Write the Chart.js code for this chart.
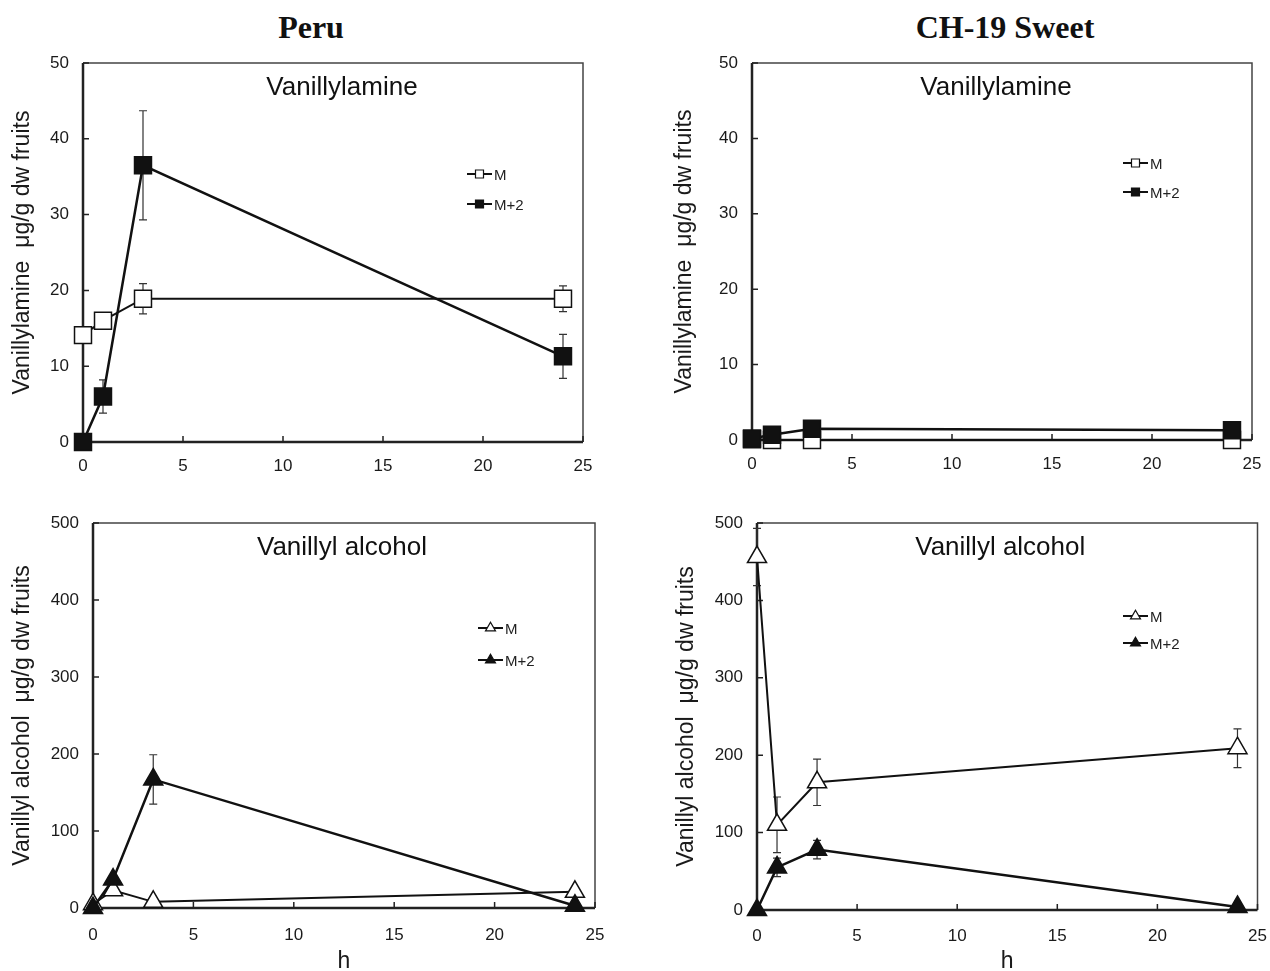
<!DOCTYPE html>
<html>
<head>
<meta charset="utf-8">
<script src="https://cdn.jsdelivr.net/npm/chart.js@4.4.1/dist/chart.umd.min.js"></script>
<style>
  body { margin: 0; background: #fff; width: 1270px; height: 971px; position: relative; overflow: hidden; }
  .head { position: absolute; top: 11px; width: 240px; text-align: center; font: bold 32px/32px "Liberation Serif", "Times New Roman", serif; color: #111; }
  canvas { position: absolute; }
</style>
</head>
<body>
<div class="head" id="head0" style="left:191px"></div>
<div class="head" id="head1" style="left:885px"></div>
<canvas id="c1"></canvas>
<canvas id="c2"></canvas>
<canvas id="c3"></canvas>
<canvas id="c4"></canvas>
<script>
// ---- data ----
const hours = [0, 1, 3, 24];
const xTickValues = [0, 5, 10, 15, 20, 25];
const amineTicks = [0, 10, 20, 30, 40, 50];
const alcoholTicks = [0, 100, 200, 300, 400, 500];
const cultivars = ['Peru', 'CH-19 Sweet'];
const compounds = ['Vanillylamine', 'Vanillyl alcohol'];
const yTitles = ['Vanillylamine  μg/g dw fruits', 'Vanillyl alcohol  μg/g dw fruits'];
const xTitle = 'h';
const seriesNames = ['M', 'M+2'];

const peruAmineM = [14.1, 16.0, 18.9, 18.9];
const peruAmineMErr = [0, 0, 2.0, 1.7];
const peruAmineM2 = [0, 6.0, 36.5, 11.3];
const peruAmineM2Err = [0, 2.2, 7.2, 2.9];

const sweetAmineM = [0.1, 0, 0, 0];
const sweetAmineMErr = [0, 0, 0, 0];
const sweetAmineM2 = [0.2, 0.7, 1.5, 1.3];
const sweetAmineM2Err = [0, 0, 0, 0];

const peruAlcM = [5, 23, 8, 21];
const peruAlcMErr = [0, 0, 0, 0];
const peruAlcM2 = [0, 37, 167, 3];
const peruAlcM2Err = [0, 0, 32, 0];

const sweetAlcM = [456, 110, 165, 209];
const sweetAlcMErr = [37, 36, 30, 25];
const sweetAlcM2 = [0, 55, 78, 4];
const sweetAlcM2Err = [0, 12, 12, 0];

document.getElementById('head0').textContent = cultivars[0];
document.getElementById('head1').textContent = cultivars[1];

const FONT = '"Liberation Sans", Arial, sans-serif';
const INK = '#111';

// box = canvas left, top, width, height; plot = chart area left, top, right, bottom
const panels = [
  { id: 'c1', box: [0, 45, 620, 440], plot: [83, 63, 583, 442], ticks: amineTicks, m: peruAmineM, mErr: peruAmineMErr,
    m2: peruAmineM2, m2Err: peruAmineM2Err, shape: 'rect', title: compounds[0], yTitle: yTitles[0], titleDx: 9, legend: [384, 111, 30], showH: false, xPad: 14 },
  { id: 'c2', box: [662, 45, 608, 440], plot: [752, 63, 1252, 440], ticks: amineTicks, m: sweetAmineM, mErr: sweetAmineMErr,
    m2: sweetAmineM2, m2Err: sweetAmineM2Err, shape: 'rect', title: compounds[0], yTitle: yTitles[0], titleDx: -6, legend: [371, 100, 29], showH: false, xPad: 14 },
  { id: 'c3', box: [0, 500, 620, 473], plot: [93, 523, 595, 908], ticks: alcoholTicks, m: peruAlcM, mErr: peruAlcMErr,
    m2: peruAlcM2, m2Err: peruAlcM2Err, shape: 'triangle', title: compounds[1], yTitle: yTitles[1], titleDx: -2, legend: [385, 105, 32], showH: true, xPad: 17 },
  { id: 'c4', box: [664, 500, 606, 473], plot: [757, 523, 1258, 910], ticks: alcoholTicks, m: sweetAlcM, mErr: sweetAlcMErr,
    m2: sweetAlcM2, m2Err: sweetAlcM2Err, shape: 'triangle', title: compounds[1], yTitle: yTitles[1], titleDx: -7, legend: [366, 93, 27], showH: true, xPad: 16 }
];

function toPoints(values) {
  return values.map((v, i) => ({ x: hours[i], y: v }));
}

function drawMarker(ctx, shape, x, y, size, filled) {
  ctx.beginPath();
  if (shape === 'rect') {
    ctx.rect(x - size / 2, y - size / 2, size, size);
  } else {
    const r = size / Math.sqrt(3);
    ctx.moveTo(x, y - r);
    ctx.lineTo(x + size / 2, y + r / 2);
    ctx.lineTo(x - size / 2, y + r / 2);
    ctx.closePath();
  }
  ctx.fillStyle = filled ? INK : '#fff';
  ctx.fill();
  ctx.stroke();
}

const panelDecor = {
  id: 'panelDecor',
  beforeDatasetsDraw(chart, args, opts) {
    const { ctx, chartArea: a, scales: { x, y } } = chart;
    ctx.save();
    // frame: thin top/right, heavier axes
    ctx.strokeStyle = '#444';
    ctx.lineWidth = 1.5;
    ctx.beginPath();
    ctx.moveTo(a.left, a.top); ctx.lineTo(a.right, a.top); ctx.lineTo(a.right, a.bottom);
    ctx.stroke();
    ctx.strokeStyle = '#222';
    ctx.lineWidth = 2.5;
    ctx.beginPath();
    ctx.moveTo(a.left, a.top); ctx.lineTo(a.left, a.bottom); ctx.lineTo(a.right, a.bottom);
    ctx.stroke();
    // inward tick marks
    ctx.lineWidth = 1.5;
    ctx.beginPath();
    x.ticks.forEach(t => {
      const px = x.getPixelForValue(t.value);
      ctx.moveTo(px, a.bottom); ctx.lineTo(px, a.bottom - 6);
    });
    y.ticks.forEach(t => {
      const py = y.getPixelForValue(t.value);
      ctx.moveTo(a.left, py); ctx.lineTo(a.left + 6, py);
    });
    ctx.stroke();
    // error bars, under the markers
    ctx.strokeStyle = '#333';
    ctx.lineWidth = 1.2;
    chart.data.datasets.forEach(ds => {
      ds.data.forEach((p, i) => {
        const e = ds.errors[i];
        if (!e) return;
        const px = x.getPixelForValue(p.x);
        const hi = y.getPixelForValue(p.y + e);
        const lo = y.getPixelForValue(p.y - e);
        ctx.beginPath();
        ctx.moveTo(px, hi); ctx.lineTo(px, lo);
        ctx.moveTo(px - 4, hi); ctx.lineTo(px + 4, hi);
        ctx.moveTo(px - 4, lo); ctx.lineTo(px + 4, lo);
        ctx.stroke();
      });
    });
    ctx.restore();
  },
  afterDatasetsDraw(chart, args, opts) {
    const { ctx, chartArea: a } = chart;
    ctx.save();
    // compound name inside the plot
    ctx.fillStyle = INK;
    ctx.font = '26px ' + FONT;
    ctx.textAlign = 'center';
    ctx.textBaseline = 'middle';
    ctx.fillText(opts.title, (a.left + a.right) / 2 + opts.titleDx, a.top + 25);
    // legend inside the plot
    const [lx, ly, gap] = opts.legend;
    ctx.font = '15px ' + FONT;
    ctx.textAlign = 'left';
    seriesNames.forEach((name, i) => {
      const x0 = a.left + lx, yy = a.top + ly + i * gap;
      ctx.strokeStyle = INK;
      ctx.lineWidth = 2;
      ctx.beginPath();
      ctx.moveTo(x0, yy); ctx.lineTo(x0 + 25, yy);
      ctx.stroke();
      ctx.lineWidth = 1.2;
      drawMarker(ctx, opts.shape, x0 + 12.5, yy, opts.shape === 'rect' ? 8 : 10, i === 1);
      ctx.fillStyle = '#222';
      ctx.fillText(name, x0 + 27, yy + 2);
    });
    ctx.restore();
  }
};

panels.forEach(p => {
  const [bl, bt, bw, bh] = p.box;
  const [pl, pt, pr, pb] = p.plot;
  const canvas = document.getElementById(p.id);
  canvas.width = bw;
  canvas.height = bh;
  canvas.style.left = bl + 'px';
  canvas.style.top = bt + 'px';
  const pointRadius = p.shape === 'rect' ? 12 : 11;
  const common = {
    borderColor: INK,
    pointStyle: p.shape,
    pointRadius: pointRadius,
    pointBorderColor: INK,
    pointBorderWidth: 1.5,
    tension: 0,
    clip: false
  };
  new Chart(canvas, {
    type: 'line',
    data: {
      datasets: [
        Object.assign({ label: seriesNames[1], data: toPoints(p.m2), errors: p.m2Err, borderWidth: 2.5,
          pointBackgroundColor: INK, order: 0 }, common),
        Object.assign({ label: seriesNames[0], data: toPoints(p.m), errors: p.mErr, borderWidth: 2,
          pointBackgroundColor: '#fff', order: 1 }, common)
      ]
    },
    options: {
      responsive: false,
      animation: false,
      devicePixelRatio: 1,
      events: [],
      layout: { padding: { left: 0, top: pt - bt, right: bl + bw - pr, bottom: 0 } },
      plugins: {
        legend: { display: false },
        tooltip: { enabled: false },
        panelDecor: { title: p.title, titleDx: p.titleDx, legend: p.legend, shape: p.shape }
      },
      scales: {
        x: {
          type: 'linear',
          min: xTickValues[0],
          max: xTickValues[xTickValues.length - 1],
          afterBuildTicks: s => { s.ticks = xTickValues.map(v => ({ value: v })); },
          afterFit: s => { s.height = bt + bh - pb; s.paddingLeft = 0; s.paddingRight = 0; },
          grid: { display: false, drawTicks: false },
          border: { display: false },
          ticks: { color: '#1a1a1a', font: { family: FONT, size: 17 }, padding: p.xPad, maxRotation: 0, autoSkip: false },
          title: { display: p.showH, text: xTitle, color: '#1a1a1a', font: { family: FONT, size: 23, lineHeight: 1 }, padding: { top: 0, bottom: 0 } }
        },
        y: {
          type: 'linear',
          min: p.ticks[0],
          max: p.ticks[p.ticks.length - 1],
          afterBuildTicks: s => { s.ticks = p.ticks.map(v => ({ value: v })); },
          afterFit: s => { s.width = pl - bl; s.paddingTop = 0; s.paddingBottom = 0; },
          grid: { display: false, drawTicks: false },
          border: { display: false },
          ticks: { color: '#1a1a1a', font: { family: FONT, size: 17 }, padding: 14 },
          title: { display: true, text: p.yTitle, color: '#1a1a1a', font: { family: FONT, size: 23, lineHeight: 1.2 }, padding: { top: 9, bottom: 0 } }
        }
      }
    },
    plugins: [panelDecor]
  });
});
</script>
</body>
</html>
